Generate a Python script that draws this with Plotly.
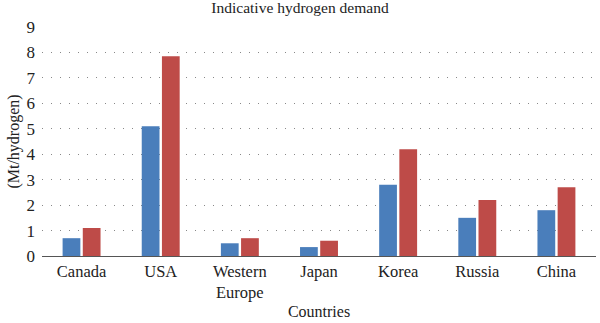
import plotly.graph_objects as go

categories = ["Canada", "USA", "Western<br>Europe", "Japan", "Korea", "Russia", "China"]
series_a = [0.7, 5.1, 0.5, 0.35, 2.8, 1.5, 1.8]
series_b = [1.1, 7.85, 0.7, 0.6, 4.2, 2.2, 2.7]
y_ticks = [0, 1, 2, 3, 4, 5, 6, 7, 8, 9]

font_family = "Liberation Serif"

fig = go.Figure()
fig.add_trace(go.Bar(x=categories, y=series_a, marker=dict(color="#4a7ebb", line=dict(width=0)), showlegend=False))
fig.add_trace(go.Bar(x=categories, y=series_b, marker=dict(color="#be4b48", line=dict(width=0)), showlegend=False))

fig.update_layout(
    width=600, height=323,
    margin=dict(l=42, r=4, t=27, b=67, autoexpand=False),
    paper_bgcolor="white", plot_bgcolor="white",
    barmode="group", bargap=0.49, bargroupgap=0.12,
    font=dict(family=font_family, size=16, color="#222"),
    title=dict(text="Indicative hydrogen demand", x=0.5, xanchor="center", y=0.992, yanchor="top",
               font=dict(family=font_family, size=15.5, color="#222")),
)
fig.update_xaxes(
    showline=True, linecolor="#555", linewidth=1.2, showgrid=False, ticks="",
    tickfont=dict(size=16.5), automargin=False,
    title=dict(text="Countries", font=dict(size=16), standoff=4),
)
fig.update_yaxes(
    range=[0, 9], tickvals=y_ticks, showline=False, zeroline=False,
    showgrid=True, gridcolor="#888", griddash="1px,8px", gridwidth=1,
    tickfont=dict(size=17), ticks="", ticklabelstandoff=6, automargin=False,
    title=dict(text="(Mt/hydrogen)", font=dict(size=16), standoff=2),
)
fig.write_html("out.html")
